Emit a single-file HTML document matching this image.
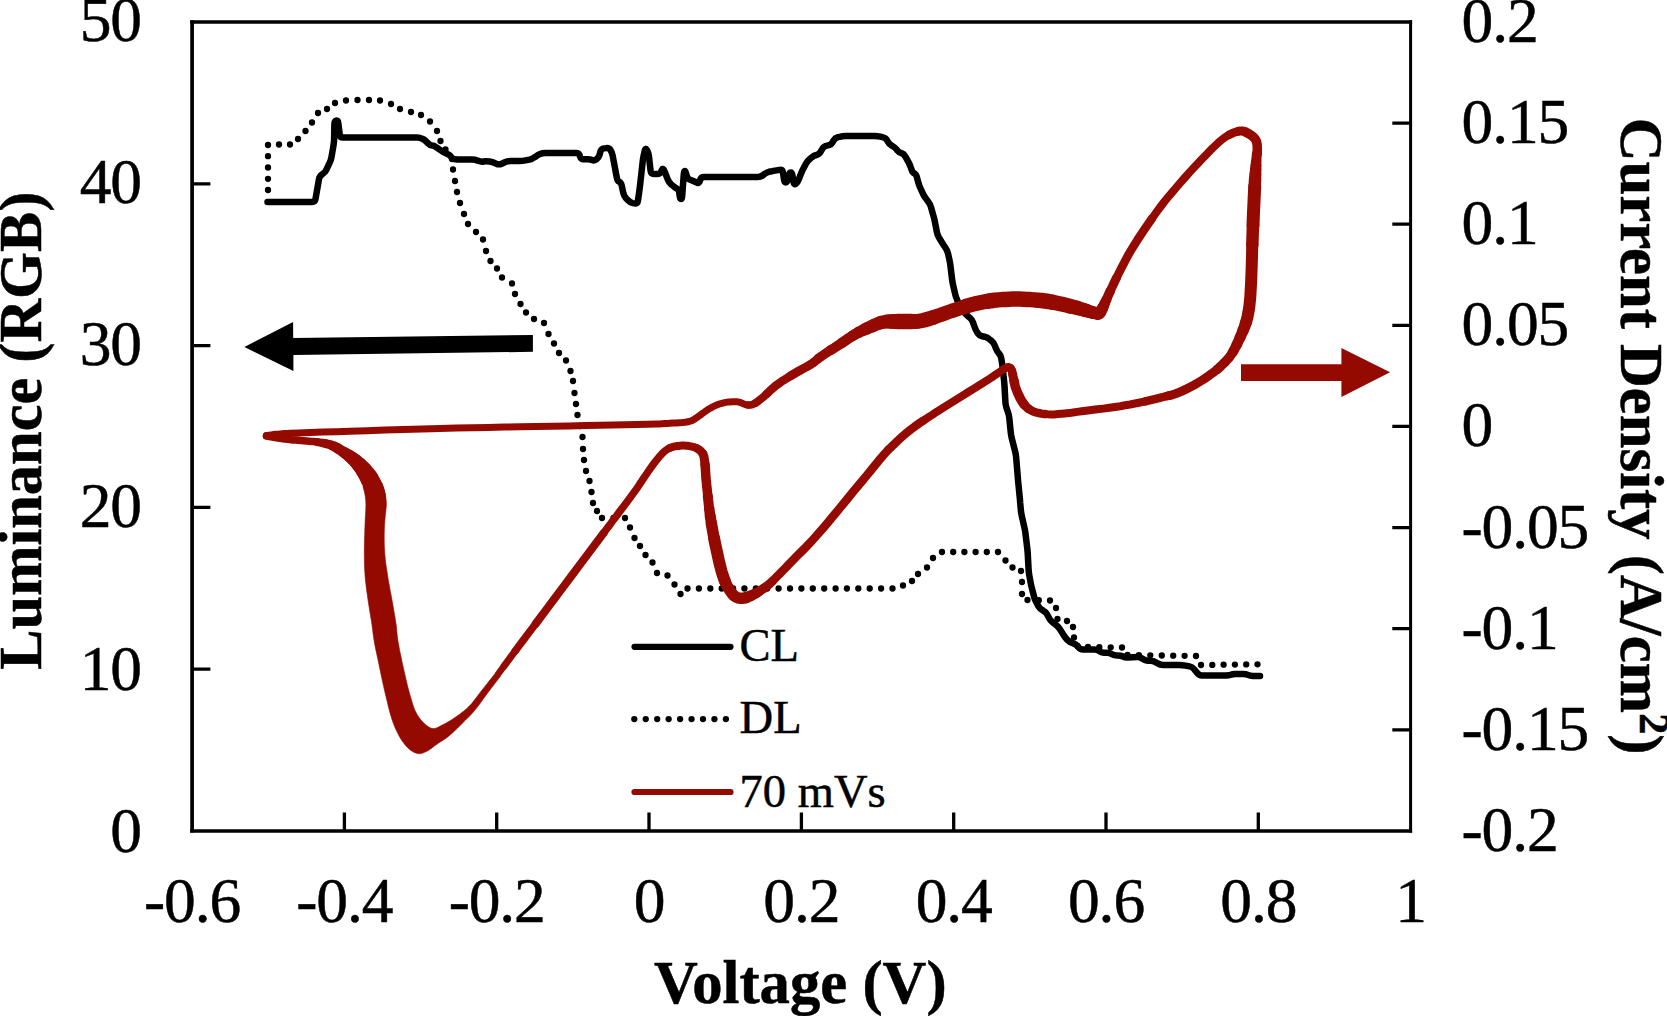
<!DOCTYPE html>
<html lang="en">
<head>
<meta charset="utf-8">
<title>Luminance and Current Density vs Voltage</title>
<style>
html,body{margin:0;padding:0;background:#fff;}
body{width:1667px;height:1016px;overflow:hidden;}
svg{display:block;}
</style>
</head>
<body>
<svg width="1667" height="1016" viewBox="0 0 1667 1016" role="img" aria-label="Luminance (RGB) and current density versus voltage">
<rect width="1667" height="1016" fill="#fff"/>
<path d="M268 190h.01M268 178.8h.01M268 167.5h.01M268 156.2h.01M268 145h.01M279 144.5h.01M290 144.5h.01M298 139h.01M305.5 131h.01M312 122.5h.01M318 113h.01M327 109h.01M335 103h.01M346 100.5h.01M357.5 100h.01M369 100h.01M380 100.5h.01M391 104h.01M400 109h.01M411 112h.01M421 115h.01M430 121.5h.01M437 131h.01M440.5 141h.01M445.5 149.5h.01M452 159h.01M453 169.5h.01M455 181h.01M457 192h.01M460 203h.01M464 214h.01M468 224h.01M476 232h.01M483 239.5h.01M486 251h.01M490.5 261h.01M497 268.5h.01M502 277.5h.01M512 283.5h.01M515 294h.01M520.5 304h.01M526 312.5h.01M534 319h.01M544 323h.01M548.5 334h.01M554 343.5h.01M559 353h.01M566 360.5h.01M570.5 371h.01M573 381h.01M574.5 393h.01M576 404h.01M577.5 415h.01M580 426h.01M582.5 437h.01M583 449h.01M584 460h.01M586 471h.01M589.5 481h.01M591.5 492h.01M593 503h.01M597 511h.01M602 518h.01M613.5 518h.01M625 518h.01M630 527.5h.01M634.5 538h.01M640 546h.01M645.5 555h.01M652.5 562.5h.01M657 573h.01M667.5 575.5h.01M674.5 584.5h.01M680.5 594h.01M687.5 588.5h.01M698.9 588.5h.01M710.3 588.5h.01M721.7 588.5h.01M733.1 588.5h.01M744.4 588.5h.01M755.8 588.5h.01M767.2 588.5h.01M778.6 588.5h.01M790 588.5h.01M801.4 588.5h.01M812.8 588.5h.01M824.2 588.5h.01M835.6 588.5h.01M846.9 588.5h.01M858.3 588.5h.01M869.7 588.5h.01M881.1 588.5h.01M892.5 588.5h.01M903 585.5h.01M912 581h.01M918 574h.01M927 567.5h.01M933 558h.01M942 552h.01M953.2 552h.01M964.4 552h.01M975.6 552h.01M986.8 552h.01M998 552h.01M1005.5 560.5h.01M1012.5 567.5h.01M1021 571h.01M1022 582h.01M1022 594h.01M1027.5 600h.01M1038.8 600.2h.01M1050 600.5h.01M1056 608h.01M1057.5 619h.01M1067 621h.01M1073 627h.01M1074 637.5h.01M1077.5 646h.01M1088 647h.01M1099.3 647.2h.01M1110.7 647.3h.01M1122 647.5h.01M1127.5 655h.01M1138.9 655.2h.01M1150.3 655.3h.01M1161.8 655.5h.01M1173.2 655.7h.01M1184.6 655.8h.01M1196 656h.01M1201 665h.01M1212.3 664.9h.01M1223.6 664.7h.01M1234.9 664.6h.01M1246.2 664.4h.01M1257.5 664.3h.01" fill="none" stroke="#000" stroke-width="6.3" stroke-linecap="round"/>
<path d="M267.5 202L312 202Q315 202 315.5 199L319 179Q319.5 176 322 174.4L322.5 174.1Q325 172.5 326.3 169.8L329.7 162.7Q331 160 331.5 157L333.5 145.5Q334 142.5 334.1 139.5L334.4 124Q334.5 121 336.2 120.5L336.2 120.5Q338 120 338.3 123L339.7 134.5Q340 137.5 343 137.5L417 137.5Q420 137.5 422.5 138.8L422.5 138.8Q425 140 427 142.2L428 143.3Q430 145.5 432 145.5L432 145.5Q434 145.5 436.4 147.3L437.6 148.2Q440 150 442.5 151.5L442.5 151.5Q445 153 447.5 154L447.5 154Q450 155 451.2 157L451.2 157Q452.5 159 455 159.2L455 159.2Q457.5 159.5 460.5 159.5L472 159.5Q475 159.5 477.8 160.7L478.2 160.8Q481 162 483.5 161.5L483.5 161.5Q486 161 489 161.5L489.5 161.5Q492.5 162 495.2 163.3L496.3 163.7Q499 165 501.7 163.7L504.8 162.3Q507.5 161 510.5 161L519.5 161Q522.5 161 525.4 160.4L529.6 159.6Q532.5 159 534.8 157.1L535.2 156.9Q537.5 155 540 154L540 154Q542.5 153 545.5 153L576 153Q579 153 579.9 155.9L580.1 156.6Q581 159.5 584 159.3L587 159.2Q590 159 592 160L592 160Q594 161 596.5 159.3L596.5 159.2Q599 157.5 599.7 154.6L600.3 151.9Q601 149 603.9 148.4L606.1 148.1Q609 147.5 610.5 150L610.5 150Q612 152.5 612.6 155.4L616.9 178.1Q617.5 181 619.2 181.8L619.2 181.8Q621 182.5 621.7 185.4L623.3 193.1Q624 196 626 198.2L628 200.3Q630 202.5 632.9 203.1L634.6 203.4Q637.5 204 637.9 201L639.6 189Q640 186 640.3 183L642.7 161.5Q643 158.5 643.7 155.6L644.8 150.4Q645.5 147.5 646.9 150.1L647.1 150.4Q648.5 153 648.9 156L650.6 171Q651 174 654 174L657 174Q660 174 661.3 171.3L661.7 170.2Q663 167.5 664.1 170.3L664.9 172.2Q666 175 667.1 177.8L667.9 179.7Q669 182.5 671.3 184.4L672.7 185.6Q675 187.5 677 188.8L677 188.8Q679 190 679.3 193L679.7 196Q680 199 681 199L681 199Q682 199 682.2 196L683.8 174Q684 171 684.8 171L684.8 171Q685.5 171 686.2 173.9L686.8 176.1Q687.5 179 690.4 179.9L691.1 180.1Q694 181 696.5 182.5L696.5 182.5Q699 184 699.8 181.1L700.2 179.9Q701 177 704 177L758 177Q761 177 763.2 175L763.8 174.5Q766 172.5 768.9 171.8L772.1 171.2Q775 170.5 778 170.1L779.5 169.9Q782.5 169.5 783 172.5L784 179.5Q784.5 182.5 785.8 182.5L785.8 182.5Q787 182.5 787.7 179.6L788.8 175.4Q789.5 172.5 790.8 172.5L790.8 172.5Q792 172.5 792.5 175.5L793.5 182Q794 185 795.8 183.8L795.8 183.8Q797.5 182.5 798.6 179.7L801.4 172.8Q802.5 170 804 167.4L806 163.6Q807.5 161 809.8 159.1L811.7 157.4Q814 155.5 816.5 155L816.5 155Q819 154.5 820.5 151.9L822.5 148.6Q824 146 827 145.6L828 145.4Q831 145 832.5 142.4L833.5 140.6Q835 138 837.9 137.2L839.6 136.8Q842.5 136 845.5 136L874.5 136Q877.5 136 880.4 136.7L883.1 137.3Q886 138 887.3 140.7L887.7 141.3Q889 144 891.6 145.5L892.4 146Q895 147.5 896.9 149.8L897.1 150.2Q899 152.5 901.5 153.2L901.5 153.2Q904 154 905.4 156.6L908.6 162.4Q910 165 910.9 167.8L911.6 169.7Q912.5 172.5 914.2 173.2L914.2 173.2Q916 174 916.8 176.9L918.2 182.1Q919 185 920.2 187.7L922.8 193.3Q924 196 925.8 198.4L928.2 201.6Q930 204 930.9 206.9L933.1 214.6Q934 217.5 934.6 220.4L936.9 232.1Q937.5 235 939 237.6L939.5 238.4Q941 241 942.6 243.5L945.9 248.5Q947.5 251 948.1 253.9L949.4 259.6Q950 262.5 950.4 265.5L952.1 279.5Q952.5 282.5 953.2 285.4L955.3 294.6Q956 297.5 957.3 300.2L957.7 301.3Q959 304 960.4 306.6L960.6 306.9Q962 309.5 963.9 311.8L964.1 312.2Q966 314.5 968.3 316.4L969.7 317.6Q972 319.5 973 322.3L974.7 327.2Q975.7 330 977.3 332.5L977.7 333.1Q979.3 335.6 982.2 336.3L984.5 336.7Q987.4 337.4 989.7 339.4L991.4 340.8Q993.7 342.8 994.8 345.6L996.2 349Q997.3 351.8 999.1 353.6L999.1 353.6Q1000.9 355.4 1001.3 358.4L1002.3 365Q1002.7 368 1003 371L1004.2 382Q1004.5 385 1004.6 388L1005.4 402Q1005.5 405 1006.5 407.8L1008 412.2Q1009 415 1009.3 418L1010.7 432Q1011 435 1011.7 437.9L1015.3 452.1Q1016 455 1016.2 458L1017.8 477Q1018 480 1018.3 483L1019.7 497Q1020 500 1020.2 503L1020.8 509.5Q1021 512.5 1021.7 515.4L1024.3 527.1Q1025 530 1025.4 533L1027.1 547Q1027.5 550 1027.7 553L1028.6 569.5Q1028.8 572.5 1029.3 575.5L1030.5 582Q1031 585 1031.8 587.9L1034.2 597.1Q1035 600 1036.5 602.6L1038.5 606.4Q1040 609 1042.7 610.3L1043.3 610.7Q1046 612 1047.3 614.7L1048.7 617.3Q1050 620 1052.3 621.9L1056.7 625.6Q1059 627.5 1060.5 630.1L1063.5 634.9Q1065 637.5 1067.1 639.6L1067.9 640.4Q1070 642.5 1072.9 643.2L1073.1 643.3Q1076 644 1077.8 646.4L1078.2 647.1Q1080 649.5 1083 649.5L1094.5 649.5Q1097.5 649.5 1099.2 651L1099.2 651Q1101 652.5 1104 652.7L1107 652.8Q1110 653 1112 654.2L1112 654.2Q1114 655.5 1117 655.5L1118 655.5Q1121 655.5 1123 656.5L1123 656.5Q1125 657.5 1128 657.4L1137 657.1Q1140 657 1142.5 658.7L1142.5 658.8Q1145 660.5 1148 660.7L1151 660.8Q1154 661 1156.5 662.7L1157.5 663.3Q1160 665 1163 665L1179.5 665Q1182.5 665 1185.4 665.6L1189.6 666.4Q1192.5 667 1194.3 669.4L1197.2 673.1Q1199 675.5 1202 675.5L1226 675.5Q1229 675.5 1230.8 674.8L1230.8 674.8Q1232.5 674 1235.5 674L1243 674Q1246 674 1248 674.9L1248 674.9Q1250 675.8 1253 675.9L1260 676" fill="none" stroke="#000" stroke-width="6.5" stroke-linecap="round" stroke-linejoin="round"/>
<g fill="none" stroke="#950a00" stroke-linecap="round" stroke-linejoin="round">
<path d="M504 666.1 L500 671.5L498.4 673.6" stroke-width="6.5"/>
<path d="M275.3 434.5 L278 434.2L280.2 434L282.3 433.8L284.5 433.6L287 433.5L290 433.3L298.9 432.9L310.1 432.5L322.9 432.1L336.5 431.7L350 431.3L366.9 430.7L384.9 430.1L403.5 429.5L422 428.9L440 428.4L456.3 428L472.3 427.7L488.2 427.4L504.1 427.1L520 426.8L536.2 426.5L552.7 426.2L569 425.9L584.9 425.6L600 425.3L612.4 425L624.9 424.8L636.8 424.5L647.3 424.3L656 424L659.4 423.9L662.3 423.7L664.8 423.6L667.3 423.5L670 423.3L673.1 423.1L676.2 423L679.4 422.8L682.4 422.6L685 422.3L686.6 422L688 421.8L689.4 421.4L690.7 421L692 420.5L693.4 419.8L694.7 419L696 418.1L697.4 417.1L698.8 416.1L700.6 414.8L702.5 413.4L704.5 412L706.4 410.6L708.4 409.3L710.3 408.2L712.2 407.1L714.1 406.2L716 405.3L718 404.5L719.9 403.8L721.8 403.3L723.7 402.8L725.6 402.4L727.6 402.1L729.9 401.9L732.2 401.7L734.6 401.7L736.9 401.8L739.1 402.1L740.8 402.6L742.4 403.3L743.9 404L745.4 404.6L746.8 405L748 405.1M515 651.2 L509.4 658.9L504 666.1" stroke-width="7"/>
<path d="M266.5 435.9 L267.3 435.8L269.4 435.4L272.3 435L275.3 434.5M748 405.1 L749.1 405.1L750.2 405.1L751.3 404.8L752.5 404.5L754.1 403.8L755.8 402.8M1010.7 368.1 L1010.2 367.5L1009.6 367.1L1009 366.8L1008.1 366.8L1007.1 367.2L1006.1 367.8M669.8 448 L668.3 448.8L666.9 449.6L665.4 450.6L664 451.8L662 453.7L660 455.9L658 458.3L655.9 460.9L653.9 463.6L651.4 467L648.8 470.7L646.2 474.5L643.7 478.1L641.6 481.3L640.4 483L639.5 484.5L638.5 486L637.5 487.5L636.2 489.4L632.9 493.9L628.8 499.4L624.4 505.4L619.8 511.4L615.7 516.9L612.5 521.1L609.6 525.1L606.6 529L603.5 533.2M535.9 623.5 L531.9 628.8L527.9 634L524 639.3L520 644.6L515 651.2" stroke-width="7.5"/>
<path d="M755.8 402.8 L757.6 401.6L759.3 400.2L761.2 398.8L763.8 396.6L766.6 394M1152 218.5 L1156.4 212.3L1160.7 206.5L1164.7 201.3L1168.8 196.3L1173 191.4L1177.1 186.5L1181.3 181.7L1185.4 177L1189.5 172.4L1193.6 167.9L1197.8 163.4L1202 159L1206.2 154.7L1210.5 150.2L1214.8 146L1218.9 142.1L1222.7 139L1224.9 137.4L1227 136L1229 134.9M1145.2 401.4 L1140 402.5L1135 403.5L1130.1 404.5L1125.1 405.3L1120.1 406.2L1115 407L1109.3 407.8L1103.3 408.6L1097.4 409.3L1091.5 410L1086 410.7L1081.6 411.3L1077.3 411.9L1073.1 412.5L1069 413.1L1065 413.5L1061.4 413.8L1057.8 414.1L1054.4 414.4L1050.9 414.4L1047.6 414.3L1044.5 414M1011.9 370.6 L1011.5 369.5L1011.1 368.8L1010.7 368.1M1006.1 367.8 L1005 368.4L1004 369L1003.1 369.5L1002.3 370.1L1001.5 370.7L1000.6 371.3L999.6 372L997.9 373.1L996.1 374.4L994.1 375.7L992.1 377.1L990 378.5L987.5 380.1L985 381.7L982.4 383.3L979.6 385L976.7 386.8L972.7 389.3L968.3 392L963.9 394.8L959.4 397.6L955 400.3L951 402.8L947 405.3L943 407.8L939.1 410.3L935.4 412.7L932.2 414.8L929 416.8L926 418.8L923 420.8M697.2 448.5 L695.8 447.8L694.3 447.2L692.7 446.8L691 446.4L689.4 446.1L687.6 445.8L685.8 445.7L683.9 445.6L682 445.6L680.2 445.7L678.4 445.9L676.6 446.1L674.7 446.4L673 446.8L671.3 447.4L669.8 448M603.5 533.2 L600 537.9L593.8 546.2L586.7 555.6L579.2 565.6L571.8 575.5L565 584.6L559.7 591.7L554.6 598.5L549.6 605.2L544.8 611.7L540 618L535.9 623.5" stroke-width="8"/>
<path d="M766.6 394 L769.5 391.2L772.5 388.4L775.6 385.8L779.2 383.2L783 380.6L787 378.2L790.9 375.7M1116.3 278.2 L1117.5 275.8L1118.7 273.4L1120 270.8L1121.8 267.3L1123.8 263.5L1125.8 259.6L1127.9 255.7L1130 252L1131.9 248.8L1133.8 245.7L1135.7 242.7L1137.7 239.5L1140 236.1L1143.6 230.7L1147.7 224.7L1152 218.5M1229 134.9 L1231 133.9L1233 133L1234.8 132.3L1236.6 131.7L1238.5 131.2M1169.4 395.5 L1167.3 396L1165 396.5L1160.7 397.6L1155.8 398.8L1150.5 400.1L1145.2 401.4M1044.5 414 L1041.5 413.6L1038.5 413L1035.7 412.3L1033.2 411.4L1031.5 410.6L1030 409.7L1028.5 408.7M1012.7 374.5 L1012.5 373.1L1012.2 371.8L1011.9 370.6M923 420.8 L920 422.8L917.2 424.8L914.4 426.8L911.6 428.9L909 430.9L906.4 433L904.2 434.9L902.1 436.7L900 438.6L898 440.5L896 442.4L894 444.3L892 446.2L890 448.2L887.9 450.2L885.8 452.5L882.8 455.9L879.7 459.6L876.5 463.5L873.2 467.5L870 471.5L866.6 475.6L863.2 479.7L859.8 483.8L856.3 488L852.7 492.3L848.7 497.2L844.6 502.2L840.4 507.4L836.2 512.5L832 517.5L827.9 522.4L823.7 527.4L819.5 532.3L815.3 537L811.3 541.5L807.9 545L804.7 548.4L801.4 551.6L798.2 554.8L795 558L791.9 561.2L788.9 564.3L785.9 567.5L782.9 570.5L780 573.5L777.4 576.1L774.8 578.7L772.3 581.3M702.8 453.6 L701.9 452.4L700.9 451.2L699.8 450.2L698.5 449.3L697.2 448.5" stroke-width="8.5"/>
<path d="M790.9 375.7 L794.8 373.4L798.5 371.2L802.3 369.1L806 367.1L809.5 365.1L812.5 363.2L814.2 362L815.6 360.8L816.9 359.7L818.3 358.5M1110.3 290.9 L1111.5 288.3L1112.8 285.6L1114 283L1115.2 280.6L1116.3 278.2M1238.5 131.2 L1240.3 131L1242 131L1243.7 131.3L1245.3 131.9M1217.2 369.4 L1215.2 371L1213.1 372.6L1210.9 374.2L1208 376.3L1204.9 378.4L1201.7 380.5L1198.4 382.5L1195 384.5L1191.2 386.6L1187.1 388.7L1183 390.6L1179 392.4L1175.4 393.8L1173.2 394.5L1171.3 395.1L1169.4 395.5M1028.5 408.7 L1027.2 407.6L1026 406.5L1025 405.5L1024.1 404.5M1014 380.7 L1013.5 378.2L1013 376L1012.7 374.5M772.3 581.3 L769.7 583.7L767 585.9L764.3 588M705 464.3 L704.7 461.5L704.4 459.7L704.2 458L703.9 456.4L703.4 455L702.8 453.6" stroke-width="9"/>
<path d="M818.3 358.5 L820 357.2L823.1 355.1L826.6 352.8L830.4 350.3M1106.4 299.7 L1107.2 297.9L1108 296L1109.1 293.5L1110.3 290.9M1245.3 131.9 L1247 132.7L1248.5 133.6L1250 134.5L1251.3 135.4L1252.7 136.4L1253.9 137.5L1254.9 138.7L1255.8 140L1256.4 141.4L1256.8 143L1257.1 144.6L1257.2 146.3L1257.3 148L1257.3 149.9L1257.2 151.7L1257 153.7M1232.9 352 L1230.8 355.2L1229 357.7L1227 359.9L1225.1 362L1223 364L1221 366L1219.1 367.8L1217.2 369.4M1024.1 404.5 L1023.3 403.4L1022.5 402.2L1021.7 400.9L1020.5 398.8L1019.2 396.3L1018 393.7L1016.9 391L1015.9 388.4L1015.1 385.9L1014.5 383.3L1014 380.7M764.3 588 L761.4 589.9L758.5 591.7M707.8 496.1 L707.5 493L707.2 489.8L706.8 486.7L706.5 483.5L706.2 480.4L705.9 477.2L705.7 474L705.5 470.7L705.3 467.4L705 464.3" stroke-width="9.5"/>
<path d="M830.4 350.3 L834.3 347.9L838 345.5L841.6 343.1M1104.8 303.3 L1105.6 301.5L1106.4 299.7M1257 153.7 L1256.7 155.7L1256.5 158L1256.2 161.6M1236.7 344.8 L1234.8 348.5L1232.9 352M758.5 591.7 L755.7 593.4M709.2 508.7 L708.8 505.5L708.5 502.3L708.1 499.2L707.8 496.1" stroke-width="10"/>
<path d="M841.6 343.1 L845.3 340.6L848.9 338.2L852.5 335.9M1103.1 306.9 L1104 305L1104.8 303.3M1256.2 161.6 L1256 165.5M1240.1 337.4 L1238.4 341.1L1236.7 344.8M755.7 593.4 L752.9 594.8L750.7 595.8M710.2 516 L709.7 512.3L709.2 508.7" stroke-width="10.5"/>
<path d="M852.5 335.9 L856 333.8L858.9 332.2M1102.1 309 L1103.1 306.9M1256 165.5 L1255.7 169.7M1243.1 330.4 L1241.6 333.9L1240.1 337.4M750.7 595.8 L748.5 596.7L746.4 597.5M711.4 523.5 L710.8 519.7L710.2 516" stroke-width="11"/>
<path d="M858.9 332.2 L861.7 330.8L864.5 329.5M1100.1 312.5 L1101.2 310.9L1102.1 309M1255.7 169.7 L1255.4 174.2M1245.7 323.3 L1244.5 326.8L1243.1 330.4M746.4 597.5 L744.3 598.1L742.3 598.3L740.8 598.3L739.3 598.1L737.9 597.8L736.5 597.2L735.2 596.5L733.6 595.2L732.1 593.6L730.7 591.7L729.4 589.7L728.1 587.7L726.9 585.5L725.8 583.1L724.7 580.7M714 537.9 L713 532.6L712.1 527.5L711.4 523.5" stroke-width="11.5"/>
<path d="M864.5 329.5 L867.2 328.2M1097.6 313.7 L1098.3 313.7L1099 313.5L1100.1 312.5M1255.4 174.2 L1255.1 179M1252.3 245 L1252.1 250.9L1252 256.9L1251.8 263L1251.6 269.1L1251.4 275L1251.2 280.6L1250.9 286.2L1250.6 291.7L1250.3 297L1249.8 302L1249.4 305.8L1248.9 309.4L1248.3 312.8L1247.6 316.3L1246.8 319.7L1245.7 323.3M724.7 580.7 L723.8 578.1L722.8 575.3L721.6 571.5L720.5 567.3L719.4 563L718.4 558.5L717.4 554L716.3 548.8L715.1 543.4L714 537.9" stroke-width="12"/>
<path d="M867.2 328.2 L870 327L872.6 325.9M1092.8 312.5 L1095 313L1096 313.2L1096.8 313.5L1097.6 313.7M1255.1 179 L1254.7 186.5M1253 225.4 L1252.8 230.3L1252.6 235.1L1252.5 240L1252.3 245" stroke-width="12.5"/>
<path d="M872.6 325.9 L875.1 324.7L877.6 323.7L880.2 322.8M1087.1 310.8 L1090.1 311.7L1092.8 312.5M1254.7 186.5 L1254.3 194.9L1253.9 203.7L1253.5 212.2L1253.2 220L1253 225.4" stroke-width="13"/>
<path d="M880.2 322.8 L883 322.1L886.4 321.6M1084.1 309.9 L1087.1 310.8" stroke-width="13.5"/>
<path d="M886.4 321.6 L890 321.4M1077.6 308.1 L1081 309L1084.1 309.9" stroke-width="14"/>
<path d="M890 321.4 L893.6 321.4M933.4 317.3 L937 316.1L940.6 314.9L944.2 313.6L947.8 312.3L951.4 311L955 309.8L958.6 308.6L962.2 307.5L965.8 306.3M1070.3 306.2 L1074 307.1L1077.6 308.1" stroke-width="14.5"/>
<path d="M893.6 321.4 L897.3 321.4M911.8 321.6 L915.4 321.5L919 321.2L922.6 320.5L926.2 319.6L929.8 318.5L933.4 317.3M965.8 306.3 L969.4 305.3L973 304.3L976.6 303.4L980.2 302.6L983.8 301.9L987.4 301.3M1052.2 302.2 L1055.8 302.9L1059.4 303.6L1063 304.4L1066.6 305.2L1070.3 306.2" stroke-width="15"/>
<path d="M897.3 321.4 L901 321.4L904.6 321.4L908.2 321.5L911.8 321.6M987.4 301.3 L991 300.7L994.6 300.2L998.2 299.9L1001.8 299.6L1005.4 299.4L1009 299.2L1012.6 299.1L1016.2 299.1L1019.8 299.1L1023.4 299.2L1027 299.4L1030.6 299.6L1034.2 299.9L1037.8 300.2L1041.4 300.5L1045 301L1048.6 301.5L1052.2 302.2" stroke-width="15.5"/>
</g>
<g fill="none" stroke="#950a00" stroke-linecap="round" stroke-linejoin="round">
<path d="M317 442 L314.3 441.6L311.7 441.4L309 441.2L306.4 441L303.7 440.8L301 440.6L298.2 440.3L295.4 440.1L292.7 439.9L290 439.6L287.5 439.3L285.1 439L282.7 438.7L280.4 438.4L278 438L275.3 437.5L272.3 437L269.4 436.5L267.3 436.1L266.5 435.9" stroke-width="7.5"/>
<path d="M322.8 443 L319.9 442.5L317 442" stroke-width="8"/>
<path d="M325.8 443.6 L322.8 443" stroke-width="8.5"/>
<path d="M331.6 445.3 L328.7 444.3L325.8 443.6" stroke-width="9"/>
<path d="M334.6 446.6 L331.6 445.3" stroke-width="9.5"/>
<path d="M337.6 448.3 L334.6 446.6" stroke-width="10"/>
<path d="M343.3 451.9 L340.5 450.1L337.6 448.3" stroke-width="10.5"/>
<path d="M346 453.7 L343.3 451.9" stroke-width="11"/>
<path d="M348.2 455.2 L346 453.7" stroke-width="11.5"/>
<path d="M350.2 456.6 L348.2 455.2" stroke-width="12"/>
<path d="M352.1 458.1 L350.2 456.6" stroke-width="12.5"/>
<path d="M354.1 459.7 L352.1 458.1" stroke-width="13"/>
<path d="M356 461.5 L354.1 459.7" stroke-width="13.5"/>
<path d="M358.4 463.9 L356 461.5" stroke-width="14"/>
<path d="M360.9 466.6 L358.4 463.9" stroke-width="15"/>
<path d="M363.3 469.5 L360.9 466.6" stroke-width="15.5"/>
<path d="M365.5 472.5 L363.3 469.5" stroke-width="16.5"/>
<path d="M367.6 475.5 L365.5 472.5" stroke-width="17"/>
<path d="M369.5 478.7 L367.6 475.5" stroke-width="18"/>
<path d="M372.9 485.7 L371.3 482.2L369.5 478.7" stroke-width="18.5"/>
<path d="M374.2 489 L372.9 485.7" stroke-width="19"/>
<path d="M375.8 495.4 L375.6 493.8L375.2 492L374.2 489" stroke-width="19.5"/>
<path d="M376.2 506 L376.2 505.6L376.2 504.5L376.1 503L376.1 501.4L376 500L375.9 498.5L375.9 497L375.8 495.4" stroke-width="20"/>
</g>
<path d="M363 486 L363.2 487 L363.8 489.4 L364.6 492.8 L365.3 496.5 L365.7 500 L365.9 504.5 L365.8 509.5 L365.5 514.6 L365.2 519.9 L365 525 L364.8 530 L364.7 535 L364.5 540 L364.4 545 L364.3 550 L364.3 555 L364.4 560 L364.5 565 L364.7 570 L365 575 L365.4 580 L366 585 L366.6 590 L367.3 595 L368 600 L368.8 605.1 L369.6 610.3 L370.5 615.5 L371.3 620.4 L372 625 L372.4 628.2 L372.8 631.1 L373.1 633.9 L373.5 636.8 L374 640 L374.8 644.7 L375.8 649.7 L376.9 654.9 L378.1 660.3 L379.2 665.6 L380.4 671.4 L381.6 677.3 L382.9 683.2 L384.2 689.1 L385.6 695 L387 700.8 L388.4 706.7 L389.9 712.5 L391.5 718 L393.3 723.2 L394.9 727.2 L396.6 731 L398.4 734.6 L400.2 737.9 L402.2 741 L403.9 743.3 L405.6 745.5 L407.5 747.5 L409.3 749.3 L411.2 750.7 L412.7 751.6 L414.2 752.5 L415.8 753.1 L417.3 753.5 L418.9 753.7 L420.4 753.6 L422 753.3 L423.5 752.8 L425 752.1 L426.6 751.4 L428.6 750.3 L430.6 748.9 L432.6 747.4 L434.7 745.8 L436.8 744.3 L439.3 742.6 L441.9 740.9 L444.5 739.2 L447.1 737.4 L449.6 735.4 L452.2 733.2 L454.8 730.8 L457.3 728.3 L459.9 725.7 L462.4 723.2 L465 720.6 L467.6 718 L470.2 715.4 L472.7 712.7 L475.2 709.8 L477.8 706.5 L480.4 703.1 L482.9 699.5 L485.4 696 L488 692.5 L491 688.6 L494.3 684.2 L497.5 680.1 L499.9 677 L500.8 675.8 L496 672.3 L494.9 673.7 L492.3 677.1 L488.7 681.6 L484.9 686.4 L481.6 690.6 L479 693.9 L476.5 697.3 L474 700.6 L471.5 703.7 L468.8 706.6 L466.3 708.9 L463.8 711.1 L461.2 713.1 L458.6 715 L456 716.8 L453.5 718.5 L450.9 720.2 L448.3 721.7 L445.7 723.2 L443.2 724.5 L441.1 725.6 L439 726.8 L437 727.8 L435 728.4 L433 728.6 L431.1 728.2 L429.2 727.3 L427.4 726.1 L425.7 724.7 L424 723.2 L422.3 721.5 L420.6 719.6 L419.1 717.6 L417.7 715.4 L416.3 713 L414.8 709.9 L413.5 706.4 L412.3 702.8 L411.2 698.9 L410 695 L408.6 690 L407.3 684.7 L406 679.2 L404.7 673.7 L403.5 668.2 L402.2 662.5 L401 656.6 L399.7 650.7 L398.7 645.1 L397.8 640 L397.4 636.8 L397.1 633.9 L396.8 631.1 L396.6 628.2 L396.2 625 L395.5 620.4 L394.7 615.5 L393.8 610.3 L392.9 605.1 L392 600 L391.1 595 L390.1 590 L389.2 585 L388.3 580 L387.5 575 L386.8 570 L386 565 L385.4 560 L384.9 555 L384.5 550 L384.3 545 L384.2 540 L384.2 535 L384.3 530 L384.5 525 L384.9 519.9 L385.4 514.6 L386 509.5 L386.3 504.5 L386.2 500 L385.6 496.5 L384.6 492.8 L383.5 489.4 L382.7 487 L382.3 486Z" fill="#950a00" stroke="#950a00" stroke-width="0.6" stroke-linejoin="round"/>
<polygon points="532.9,334.9 532.9,351.8 293.4,355.1 293.4,371 244.4,347 293.1,322.1 293.2,338" fill="#000"/>
<polygon points="1241,364.2 1341.4,364.2 1341.4,348 1390.1,372.3 1341.4,396.9 1341.4,381 1241,381" fill="#950a00"/>
<g stroke="#000" fill="none">
<path d="M192.1 20.2V832.6" stroke-width="3.7"/>
<path d="M1410.6 20.2V832.6" stroke-width="3.0"/>
<path d="M190.2 22.0H1412.1" stroke-width="3.5"/>
<path d="M190.2 830.9H1412.1" stroke-width="3.5"/>
<path d="M192.1 669.1h18.3M192.1 507.3h18.3M192.1 345.6h18.3M192.1 183.8h18.3M1410.6 729.8h-18.3M1410.6 628.7h-18.3M1410.6 527.6h-18.3M1410.6 426.4h-18.3M1410.6 325.3h-18.3M1410.6 224.2h-18.3M1410.6 123.1h-18.3M344.4 830.9v-18.3M496.7 830.9v-18.3M649 830.9v-18.3M801.4 830.9v-18.3M953.7 830.9v-18.3M1106 830.9v-18.3M1258.3 830.9v-18.3" stroke-width="3.3"/>
</g>
<g fill="none" stroke-linecap="round">
<path d="M634.5 646.8H730.5" stroke="#000" stroke-width="6.2"/>
<path d="M634.3 719.1H727" stroke="#000" stroke-width="6.3" stroke-dasharray="0 11.45"/>
<path d="M634.5 792H730.5" stroke="#950a00" stroke-width="6.2"/>
</g>
<g font-family="'Liberation Serif', serif" fill="#000">
<g font-size="63.5" letter-spacing="-1.1" stroke="#000" stroke-width="0.5" text-anchor="end">
<text x="141" y="851.9">0</text>
<text x="141" y="689.6">10</text>
<text x="141" y="527.3">20</text>
<text x="141" y="365.1">30</text>
<text x="141" y="202.8">40</text>
<text x="141" y="40.5">50</text>
</g>
<g font-size="63.5" letter-spacing="-1.1" stroke="#000" stroke-width="0.5">
<text x="1461.5" y="42">0.2</text>
<text x="1461.5" y="143.1">0.15</text>
<text x="1461.5" y="244.2">0.1</text>
<text x="1461.5" y="345.3">0.05</text>
<text x="1461.5" y="446.4">0</text>
<text x="1461.5" y="547.6">-0.05</text>
<text x="1461.5" y="648.7">-0.1</text>
<text x="1461.5" y="749.8">-0.15</text>
<text x="1461.5" y="850.9">-0.2</text>
</g>
<g font-size="63.5" letter-spacing="-1.1" stroke="#000" stroke-width="0.5" text-anchor="middle">
<text x="192.1" y="922">-0.6</text>
<text x="344.4" y="922">-0.4</text>
<text x="496.7" y="922">-0.2</text>
<text x="649" y="922">0</text>
<text x="801.4" y="922">0.2</text>
<text x="953.7" y="922">0.4</text>
<text x="1106" y="922">0.6</text>
<text x="1258.3" y="922">0.8</text>
<text x="1410.6" y="922">1</text>
</g>
<g font-size="46.5" stroke="#000" stroke-width="0.5">
<text x="739.6" y="661">CL</text>
<text x="739.6" y="733.3">DL</text>
<text x="739.6" y="806.6">70 mVs</text>
</g>
<g font-weight="bold" stroke="#000" stroke-width="0.5">
<text x="800.3" y="1002.7" font-size="60.7" text-anchor="middle">Voltage (V)</text>
<text transform="translate(40.6 430.6) rotate(-90)" font-size="60.4" text-anchor="middle">Luminance (RGB)</text>
<text transform="translate(1620.6 436) rotate(90)" font-size="60.7" text-anchor="middle">Current Density (A/cm<tspan font-size="42" dy="-19.7">2</tspan><tspan dy="19.7">)</tspan></text>
</g>
</g>
</svg>
</body>
</html>
